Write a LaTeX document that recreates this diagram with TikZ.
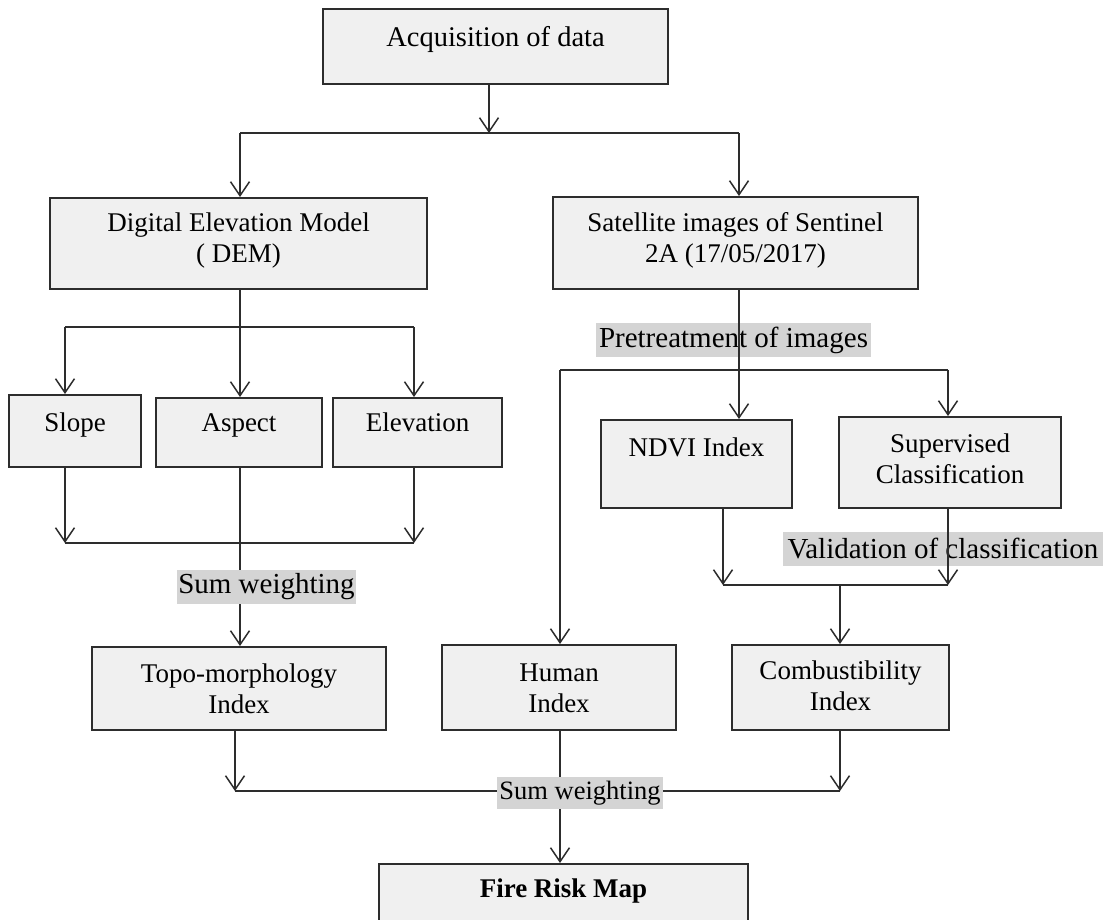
\documentclass[tikz,border=0pt]{standalone}
\usepackage{fontspec}
\setmainfont{Liberation Serif}
\usetikzlibrary{arrows.meta,calc}
\definecolor{boxfill}{RGB}{240,240,240}
\definecolor{lblfill}{RGB}{212,212,212}
\definecolor{ink}{RGB}{45,45,45}
\newcommand{\twol}[2]{\vtop{\baselineskip=31pt\halign{\hfil##\hfil\cr#1\cr#2\cr}}}
\begin{document}
\begin{tikzpicture}[x=1pt, y=-1pt,
  box/.style={draw=ink, line width=1.8pt, fill=boxfill, inner sep=0pt, anchor=north, font=\fontsize{27}{31}\selectfont},
  lbl/.style={fill=lblfill, inner sep=0pt, font=\fontsize{29}{33}\selectfont},
  conn/.style={draw=ink, line width=1.5pt},
  arr/.style={conn, -{Straight Barb[length=14pt,width=19pt]}}]
\path[fill=white, use as bounding box] (0,0) rectangle (1106,919);

% boxes
\node[box, minimum width=345pt, text height=38pt, text depth=37pt, font=\fontsize{28.5}{32}\selectfont] (acq) at (495.5,8) {Acquisition of data};
\node[box, minimum width=377pt, text height=34pt, text depth=57pt] (dem) at (238.5,197) {\twol{Digital Elevation Model}{( DEM)}};
\node[box, minimum width=365pt, text height=35pt, text depth=57pt] (sat) at (735.5,196) {\twol{Satellite images of Sentinel}{2A (17/05/2017)}};
\node[box, minimum width=132pt, text height=37pt, text depth=35pt] (slope) at (75,394) {Slope};
\node[box, minimum width=166pt, text height=34pt, text depth=35pt] (aspect) at (239,397) {Aspect};
\node[box, minimum width=169pt, text height=34pt, text depth=35pt] (elev) at (417.5,397) {Elevation};
\node[box, minimum width=191pt, text height=37pt, text depth=51pt] (ndvi) at (696.5,419) {NDVI Index};
\node[box, minimum width=222pt, text height=36pt, text depth=55pt] (sup) at (950,416) {\twol{Supervised}{Classification}};
\node[box, minimum width=294pt, text height=36pt, text depth=47pt] (topo) at (239,646) {\twol{Topo-morphology}{Index}};
\node[box, minimum width=234pt, text height=37pt, text depth=48pt] (human) at (559,644) {\twol{Human}{Index}};
\node[box, minimum width=217pt, text height=35pt, text depth=50pt] (comb) at (840.5,644) {\twol{Combustibility}{Index}};
\node[box, minimum width=369pt, text height=34pt, text depth=38pt, font=\fontsize{27}{31}\selectfont\bfseries] (fire) at (563.5,863) {Fire Risk Map};

% labels crossed by lines
\node[lbl, minimum width=275pt, minimum height=34pt] (pre) at (733.5,340) {Pretreatment of images};
\node[lbl, minimum width=320pt, minimum height=34pt] (val) at (943,549) {Validation of classification};

% columns and junctions
\coordinate (xdem) at (240,0);
\coordinate (xsat) at (739,0);
\coordinate (xhum) at (560,0);
\coordinate (xcomb) at (840,0);
\coordinate (tl) at (240,133);
\coordinate (tm) at (489,133);
\coordinate (tr) at (739,133);
\coordinate (bl) at (65,327);
\coordinate (br) at (414,327);
\coordinate (ml) at (65,543);
\coordinate (mr) at (414,543);
\coordinate (pl) at (560,370);
\coordinate (pr) at (948,370);
\coordinate (nl) at (723,585);
\coordinate (nr) at (948,585);
\coordinate (fl) at (235,791);
\coordinate (fr) at (840,791);

% connectors
\draw[arr] (acq.south -| tm) -- (tm);
\draw[conn] (tl) -- (tr);
\draw[arr] (tl) -- (tl |- dem.north);
\draw[arr] (tr) -- (tr |- sat.north);

\draw[arr] (dem.south -| xdem) -- (aspect.north -| xdem);
\draw[conn] (bl) -- (br);
\draw[arr] (bl) -- (bl |- slope.north);
\draw[arr] (br) -- (br |- elev.north);
\draw[arr] (slope.south -| ml) -- (ml);
\draw[arr] (elev.south -| mr) -- (mr);
\draw[conn] (ml) -- (mr);
\draw[arr] (aspect.south -| xdem) -- (topo.north -| xdem);

\draw[arr] (sat.south -| xsat) -- (ndvi.north -| xsat);
\draw[conn] (pl) -- (pr);
\draw[arr] (pl) -- (pl |- human.north);
\draw[arr] (pr) -- (pr |- sup.north);
\draw[arr] (ndvi.south -| nl) -- (nl);
\draw[arr] (sup.south -| nr) -- (nr);
\draw[conn] (nl) -- (nr);
\draw[arr] (nl -| xcomb) -- (comb.north -| xcomb);

\draw[arr] (topo.south -| fl) -- (fl);
\draw[arr] (comb.south -| fr) -- (fr);
\draw[conn] (fl) -- (fr);
\draw[conn] (human.south -| xhum) -- (fl -| xhum);
\draw[arr] (fl -| xhum) -- (fire.north -| xhum);

% labels covering lines
\node[lbl, minimum width=179pt, minimum height=34pt] (sw1) at (266.5,587) {Sum weighting};
\node[lbl, minimum width=166pt, minimum height=32pt, font=\fontsize{26.5}{30}\selectfont] (sw2) at (580,793) {Sum weighting};
\end{tikzpicture}
\end{document}
